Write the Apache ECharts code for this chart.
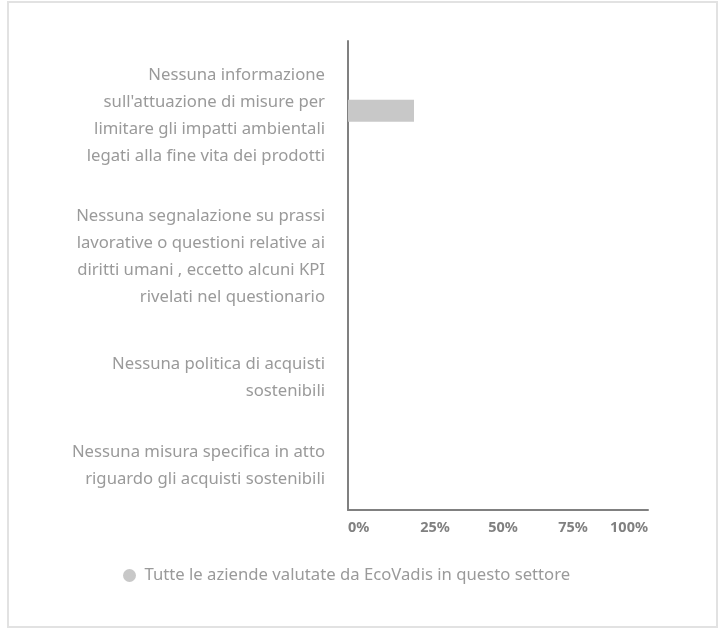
<!DOCTYPE html>
<html>
<head>
<meta charset="utf-8">
<script src="https://cdn.jsdelivr.net/npm/echarts@6/dist/echarts.min.js"></script>
<style>
  html, body { margin: 0; padding: 0; background: #fff; }
  #frame { position: absolute; left: 7px; top: 1px; width: 707px; height: 623px; border: 2px solid #e2e2e2; }
  #chart { position: absolute; left: 0; top: 0; width: 723px; height: 630px; }
</style>
</head>
<body>
<div id="frame"></div>
<div id="chart"></div>
<script>
const categories = [
  "Nessuna informazione\nsull'attuazione di misure per\nlimitare gli impatti ambientali\nlegati alla fine vita dei prodotti",
  'Nessuna segnalazione su prassi\nlavorative o questioni relative ai\ndiritti umani , eccetto alcuni KPI\nrivelati nel questionario',
  'Nessuna politica di acquisti\nsostenibili',
  'Nessuna misura specifica in atto\nriguardo gli acquisti sostenibili',
];
const values = [22, 0, 0, 0];
const seriesName = 'Tutte le aziende valutate da EcoVadis in questo settore';
const xTicks = [0, 25, 50, 75, 100];
// downward nudge (px) of each category label, as in the reference layout
const labelShift = [16, 40, 44, 14];

const grey = '#808080';
const labelColor = '#9a9a9a';
const font = '"Noto Sans", "Open Sans", sans-serif';

const gapStyles = {};
labelShift.forEach((s, i) => {
  gapStyles['g' + i] = { height: s * 2, lineHeight: s * 2, fontSize: 1 };
});
const tickStyle = { color: grey, fontSize: 14.5, fontWeight: 'bold', fontFamily: font };

const chart = echarts.init(document.getElementById('chart'));
chart.setOption({
  animation: false,
  grid: { left: 348, right: 75, top: 41, bottom: 120 },
  legend: {
    data: [seriesName],
    left: 118,
    top: 562,
    icon: 'circle',
    itemWidth: 20,
    itemHeight: 13,
    textStyle: { color: labelColor, fontSize: 16.7, fontFamily: font },
  },
  xAxis: {
    type: 'value',
    min: xTicks[0],
    max: xTicks[xTicks.length - 1],
    interval: 25,
    axisLine: { show: true, lineStyle: { color: grey, width: 2 } },
    axisTick: { show: false },
    splitLine: { show: false },
    axisLabel: {
      ...tickStyle,
      margin: 10,
      alignMinLabel: 'left',
      alignMaxLabel: 'right',
      formatter: (v) => (v === 25 ? `{a|${v}%}` : v === 50 ? `{b|${v}%}` : `${v}%`),
      rich: {
        a: { ...tickStyle, padding: [0, 0, 0, 24] },
        b: { ...tickStyle, padding: [0, 0, 0, 10] },
      },
    },
  },
  yAxis: {
    type: 'category',
    inverse: true,
    data: categories,
    axisLine: { show: true, lineStyle: { color: grey, width: 2 } },
    axisTick: { show: false },
    axisLabel: {
      interval: 0,
      color: labelColor,
      fontSize: 16.7,
      lineHeight: 27,
      fontFamily: font,
      align: 'right',
      margin: 23,
      formatter: (v, i) => `{g${i}| }\n${v}`,
      rich: gapStyles,
    },
  },
  series: [
    { name: 'spacer', type: 'bar', data: [], barWidth: 22, barGap: '0%' },
    {
      name: seriesName,
      type: 'bar',
      data: values,
      barWidth: 22,
      itemStyle: { color: '#c8c8c8' },
    },
  ],
});
</script>
</body>
</html>
